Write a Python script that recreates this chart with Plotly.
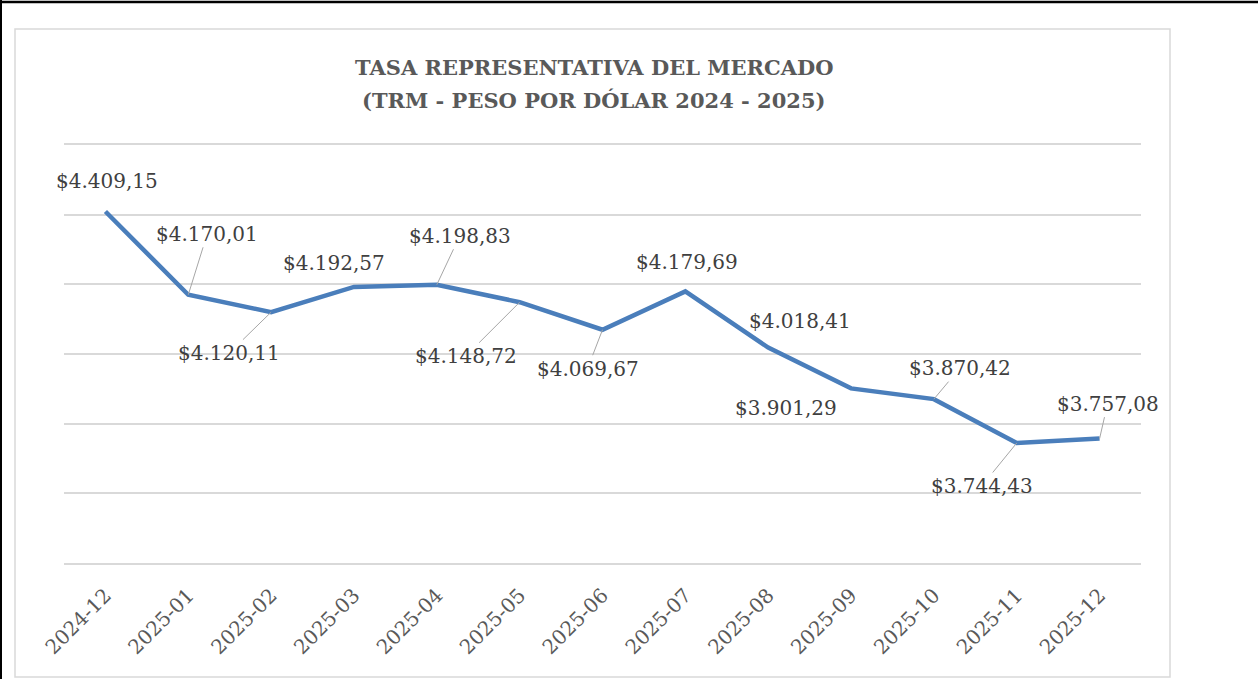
import plotly.graph_objects as go

# ---- data ----
months = ["2024-12", "2025-01", "2025-02", "2025-03", "2025-04", "2025-05", "2025-06",
          "2025-07", "2025-08", "2025-09", "2025-10", "2025-11", "2025-12"]
trm = [4409.15, 4170.01, 4120.11, 4192.57, 4198.83, 4148.72, 4069.67,
       4179.69, 4018.41, 3901.29, 3870.42, 3744.43, 3757.08]
title_lines = ["TASA REPRESENTATIVA DEL MERCADO", "(TRM - PESO POR DÓLAR 2024 - 2025)"]

# ---- label placement (pixel offsets from point to label centre; leader = draw line) ----
label_dx = [2, 19, -42, -20, 23, -54, -15, 2, 32, -65, 26, -35, 8]
label_dy = [-30, -61, 41, -24, -49, 54, 39, -29, -27, 20, -31, 43, -35]
leader = [False, True, True, False, True, True, True, False, False, False, True, True, True]

W, H = 1258, 679
L, R, T, B = 64, 117, 145, 116
pw, ph = W - L - R, H - T - B

def fmt(v):
    s = f"{v:,.2f}"
    return "$" + s.replace(",", "X").replace(".", ",").replace("X", ".")

FONT = "DejaVu Serif"
GRAY = "#595959"
LBL = dict(family=FONT, size=20, color="#404040")

fig = go.Figure()
fig.add_trace(go.Scatter(
    x=months, y=trm, mode="lines",
    line=dict(color="#4a7ebb", width=4.5),
    hoverinfo="skip", showlegend=False,
))

annotations = []
for m, v, dx, dy, ld in zip(months, trm, label_dx, label_dy, leader):
    if ld:
        annotations.append(dict(
            x=m, y=v, xref="x", yref="y", text=fmt(v), showarrow=True,
            ax=dx, ay=dy, arrowhead=0, arrowwidth=1, arrowcolor="#a6a6a6",
            font=LBL, borderpad=1,
        ))
    else:
        annotations.append(dict(
            x=m, y=v, xref="x", yref="y", text=fmt(v), showarrow=False,
            xshift=dx, yshift=-dy, font=LBL,
        ))

# title lines
for i, t in enumerate(title_lines):
    annotations.append(dict(
        x=(594 - L) / pw, y=(H - B - (67 + 33 * i)) / ph, xref="paper", yref="paper",
        text="<b>" + t + "</b>", showarrow=False, xanchor="center", yanchor="middle",
        font=dict(family=FONT, size=21, color=GRAY),
    ))

def px_x(p):
    return (p - L) / pw

def px_y(p):
    return (H - B - p) / ph

shapes = [
    # chart box
    dict(type="rect", xref="paper", yref="paper",
         x0=px_x(15), x1=px_x(1170), y0=px_y(677), y1=px_y(29),
         line=dict(color="#d9d9d9", width=1.5), layer="below"),
    # outer black border (top and left)
    dict(type="line", xref="paper", yref="paper",
         x0=px_x(0), x1=px_x(W), y0=px_y(2), y1=px_y(2),
         line=dict(color="black", width=2.5)),
    dict(type="line", xref="paper", yref="paper",
         x0=px_x(1), x1=px_x(1), y0=px_y(0), y1=px_y(H),
         line=dict(color="black", width=2)),
]

fig.update_layout(
    width=W, height=H,
    margin=dict(l=L, r=R, t=T, b=B),
    paper_bgcolor="white", plot_bgcolor="white",
    annotations=annotations, shapes=shapes,
    xaxis=dict(
        type="category", range=[-0.5, len(months) - 0.5],
        showgrid=False, showline=True, mirror=True,
        linecolor="#d9d9d9", linewidth=1.5,
        ticks="", tickangle=-45, ticklabelstandoff=11,
        tickfont=dict(family=FONT, size=20, color=GRAY), zeroline=False,
    ),
    yaxis=dict(
        range=[3400, 4600], dtick=200, tick0=3400, showgrid=True,
        gridcolor="#d9d9d9", gridwidth=1.5, showticklabels=False, zeroline=False,
        showline=False, ticks="",
    ),
)

fig.write_html("out.html", config={"displayModeBar": False},
               post_script="document.body.style.margin='0';document.body.style.overflow='hidden';")
